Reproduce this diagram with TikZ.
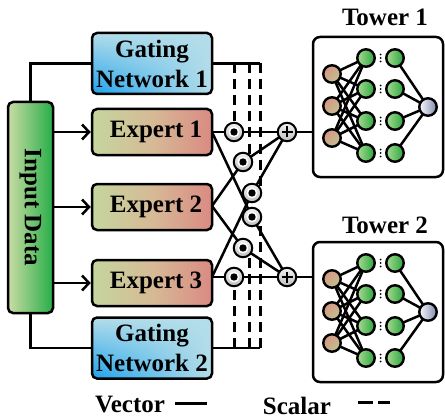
\documentclass[tikz,border=0pt]{standalone}
\usepackage{fontspec}
\setmainfont{Liberation Serif}
\usetikzlibrary{arrows.meta,shadings}
\pgfdeclarelayer{background}
\pgfsetlayers{background,main}

\definecolor{expL}{RGB}{197,214,158}
\definecolor{expM}{RGB}{214,186,150}
\definecolor{expR}{RGB}{218,138,130}
\definecolor{gateL}{RGB}{180,221,233}
\definecolor{gateD}{RGB}{28,162,236}
\definecolor{inL}{RGB}{202,220,164}
\definecolor{inR}{RGB}{38,174,72}
\definecolor{hidL}{RGB}{168,218,146}
\definecolor{hidR}{RGB}{40,166,62}
\definecolor{neuA}{RGB}{216,146,128}
\definecolor{neuB}{RGB}{190,204,150}
\definecolor{outL}{RGB}{250,250,252}
\definecolor{outR}{RGB}{128,138,172}

\begin{document}
\begin{tikzpicture}[x=1pt, y=-1pt, line width=2.5pt,
  wire/.style={line width=2.5pt},
  lbl/.style={font=\fontsize{25}{30}\selectfont\bfseries},
  box/.style={draw, line width=2.5pt, rounded corners=5pt, inner sep=0pt, lbl},
  expert/.style={box, minimum width=120pt, minimum height=46pt,
    left color=expL, right color=expR, middle color=expM},
  gate/.style={box, minimum width=120pt, minimum height=61pt, align=center,
    lower left=gateD, upper left=gateL, upper right=gateL, lower right=gateL},
  inputbox/.style={box, minimum width=45pt, minimum height=211pt,
    left color=inL, right color=inR},
  tower/.style={draw, line width=2.5pt, rounded corners=7pt,
    minimum width=130pt, minimum height=140pt},
  neuron/.style={circle, draw, line width=2.4pt, minimum size=17.5pt, inner sep=0pt},
  inneuron/.style={neuron, upper left=neuA, lower right=neuB, upper right=neuA!60!neuB, lower left=neuA!60!neuB},
  hidneuron/.style={neuron, left color=hidL, right color=hidR},
  outneuron/.style={neuron, left color=outL, right color=outR},
  opcircle/.style={circle, draw, line width=2pt, minimum size=18.5pt, inner sep=0pt,
    top color=gray!10, bottom color=gray!50},
  mult/.style={opcircle, path picture={
    \fill[white] (path picture bounding box.center) circle[radius=5.4pt];
    \fill[black] (path picture bounding box.center) circle[radius=3.7pt];}},
  plus/.style={opcircle, path picture={
    \draw[line width=1.2pt] (path picture bounding box.center)
      +(-5.5pt,0) -- +(5.5pt,0) +(0,-5.5pt) -- +(0,5.5pt);}},
  scalarline/.style={line width=3pt, dash pattern=on 10pt off 6pt},
  vecarrow/.style={-{Straight Barb[length=7pt,width=15pt]}}
]
\useasboundingbox (0,0) rectangle (445,420);

% input block, gates and experts
\node[inputbox] (inp) at (30.5,207.5) {\rotatebox{-90}{Input Data}};
\node[gate] (g1) at (152,63.5) {Gating\\Network 1};
\node[expert] (e1) at (152,132) {\hspace*{8pt}Expert 1};
\node[expert] (e2) at (152,207) {\hspace*{8pt}Expert 2};
\node[expert] (e3) at (152,283) {\hspace*{8pt}Expert 3};
\node[gate] (g2) at (152,348) {Gating\\Network 2};

% expert outputs
\coordinate (o1) at (212,132);
\coordinate (o2) at (212,206);
\coordinate (o3) at (212,277);

% gate-weighted products and sums
\node[mult] (m11) at (234,132) {};
\node[mult] (m21) at (243,162) {};
\node[mult] (m31) at (252,193) {};
\node[mult] (m12) at (252,217) {};
\node[mult] (m22) at (243,248) {};
\node[mult] (m32) at (234,277) {};
\node[plus] (p1) at (287,132) {};
\node[plus] (p2) at (287,277) {};

% gate buses
\coordinate (s2) at (249,0);
\coordinate (s3) at (260,0);

% towers
\node[lbl] (t1lab) at (385,17) {Tower 1};
\node[lbl] (t2lab) at (385,225) {Tower 2};
\node[tower] (t1) at (378,107) {};
\node[tower] (t2) at (378,312) {};

\foreach \t/\dy in {1/0, 2/205} {
  \foreach \k/\yy in {1/74, 2/106, 3/138}
    \node[inneuron] (t\t i\k) at (332,\yy+\dy) {};
  \foreach \k/\yy in {1/58, 2/89, 3/121, 4/153} {
    \node[hidneuron] (t\t a\k) at (366,\yy+\dy) {};
    \node[hidneuron] (t\t b\k) at (395,\yy+\dy) {};
    \foreach \d in {-3.5,0,3.5}
      \fill (380.5,\yy+\dy+\d) circle[radius=1pt];
  }
  \node[outneuron] (t\t o) at (428,107+\dy) {};
  \begin{pgfonlayer}{background}
    \foreach \i in {1,2,3}
      \foreach \j in {1,2,3,4}
        \draw[wire] (t\t i\i.center) -- (t\t a\j.center);
    \foreach \j in {1,2,3,4}
      \draw[wire] (t\t b\j.center) -- (t\t o.center);
  \end{pgfonlayer}
}

\begin{pgfonlayer}{background}
  % input feeds
  \draw[wire] (inp.north) |- (g1.west);
  \draw[wire] (inp.south) |- (g2.west);
  \draw[wire, vecarrow] (inp.east |- e1.west) -- (e1.west);
  \draw[wire, vecarrow] (inp.east |- e2.west) -- (e2.west);
  \draw[wire, vecarrow] (inp.east |- e3.west) -- (e3.west);

  % gate scalars
  \draw[wire] (g1.east) -- (g1.east -| s3);
  \draw[scalarline] (g1.east -| m11) -- (m11.center);
  \draw[scalarline] (g1.east -| s2) -- (m21 -| s2);
  \draw[scalarline] (g1.east -| s3) -- (m31 -| s3);
  \draw[wire] (g2.east) -- (g2.east -| s3);
  \draw[scalarline] (g2.east -| m32) -- (m32.center);
  \draw[scalarline] (g2.east -| s2) -- (m22 -| s2);
  \draw[scalarline] (g2.east -| s3) -- (m12 -| s3);

  % expert vectors through the products
  \draw[wire] (o1) -- (m11.center) -- (p1.center);
  \draw[wire] (o2) -- (m21.center) -- (p1.center);
  \draw[wire] (o3) -- (m31.center) -- (p1.center);
  \draw[wire] (o1) -- (m12.center) -- (p2.center);
  \draw[wire] (o2) -- (m22.center) -- (p2.center);
  \draw[wire] (o3) -- (m32.center) -- (p2.center);

  % sums into towers
  \draw[wire] (p1.center) -- (p1 -| t1.west);
  \draw[wire] (p2.center) -- (p2 -| t2.west);
\end{pgfonlayer}

% legend
\node[lbl] (vec) at (130,405) {Vector};
\coordinate (vl1) at (175,403);
\coordinate (vl2) at (207,403);
\draw[line width=3pt] (vl1) -- (vl2);
\node[lbl] (sca) at (297,406) {Scalar};
\coordinate (sl1) at (358,402);
\coordinate (sl2) at (390,402);
\draw[line width=3pt, dash pattern=on 15pt off 5pt] (sl1) -- (sl2);
\end{tikzpicture}
\end{document}
